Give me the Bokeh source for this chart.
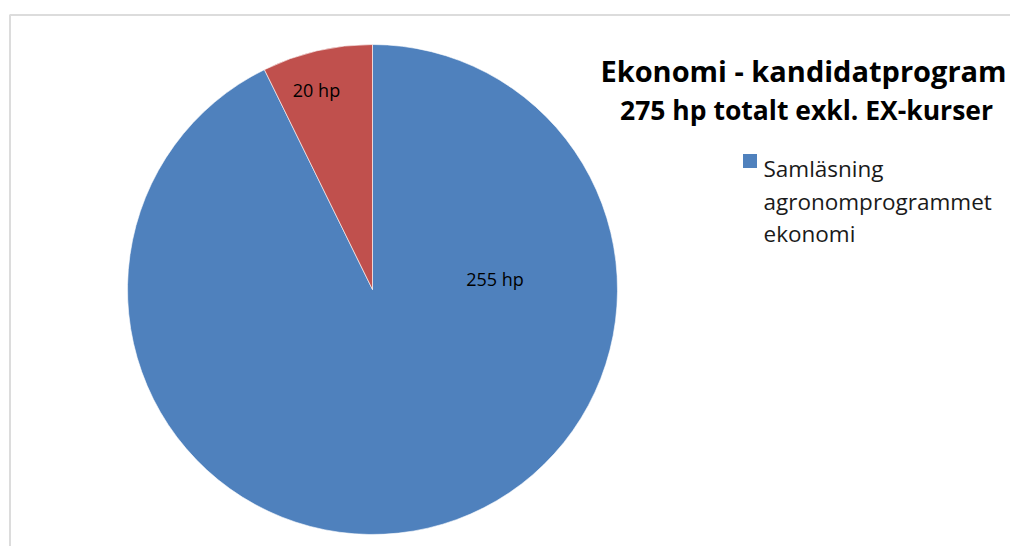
import math
from bokeh.plotting import figure
from bokeh.models import Range1d, BoxAnnotation, ColumnDataSource
from bokeh.core.properties import value
from bokeh.embed import file_html
from bokeh.resources import INLINE

# ---- data ----
title_text = "Ekonomi - kandidatprogram"
subtitle_text = "275 hp totalt exkl. EX-kurser"
categories = ["Samläsning agronomprogrammet ekonomi", ""]
values = [255, 20]
slice_labels = ["255 hp", "20 hp"]
colors = ["#4F81BD", "#C0504D"]
legend_lines = ["Samläsning", "agronomprogrammet", "ekonomi"]

# ---- layout (screen px -> data: x = X, y = H - Y) ----
W, H = 1010, 546
FONT = "Open Sans"
CX, CY, R = 372, H - 289, 245
label_angle_deg = [5.0, 105.7]
label_rad = [123, 207]

p = figure(width=W, height=H, x_range=Range1d(0, W), y_range=Range1d(0, H),
           output_backend="svg", toolbar_location=None, min_border=0,
           x_axis_location=None, y_axis_location=None)
p.grid.visible = False
p.outline_line_color = None
p.background_fill_color = "white"
p.border_fill_color = "white"

total = sum(values)
starts, ends = [], []
cum = 0
for v in values:
    starts.append(math.pi / 2 - 2 * math.pi * cum / total)
    cum += v
    ends.append(math.pi / 2 - 2 * math.pi * cum / total)

src = ColumnDataSource(dict(start=starts, end=ends, color=colors, cat=categories))
p.wedge(x=CX, y=CY, radius=R, start_angle="start", end_angle="end", direction="clock",
        fill_color="color", line_color="white", line_width=0.6, source=src)

lx = [CX + r * math.cos(math.radians(a)) for r, a in zip(label_rad, label_angle_deg)]
ly = [CY + r * math.sin(math.radians(a)) for r, a in zip(label_rad, label_angle_deg)]
p.text(x=lx, y=ly, text=slice_labels, text_align="center", text_baseline="middle",
       text_font=value(FONT), text_font_size="18px", text_color="#000000")

# title
p.text(x=[803], y=[H - 70], text=[title_text], text_align="center", text_baseline="alphabetic",
       text_font=value(FONT), text_font_style="bold", text_font_size="29px", text_color="#000000")
p.text(x=[806], y=[H - 109], text=[subtitle_text], text_align="center", text_baseline="alphabetic",
       text_font=value(FONT), text_font_style="bold", text_font_size="26.5px", text_color="#000000")

# legend
p.rect(x=[749.5], y=[H - 160.5], width=14, height=14, fill_color=colors[0], line_color=None)
leg_y = [H - 168, H - 200.5, H - 233]
p.text(x=[763] * 3, y=leg_y, text=legend_lines, text_align="left", text_baseline="alphabetic",
       text_font=value(FONT), text_font_size="22.5px", text_color="#1a1a1a")

# chart border
p.add_layout(BoxAnnotation(left=9.5, right=W + 50, top=H - 14.5, bottom=-50,
                           fill_alpha=0, line_color="#8C8C8C", line_width=2))

open("out.html", "w").write(file_html(p, INLINE))
